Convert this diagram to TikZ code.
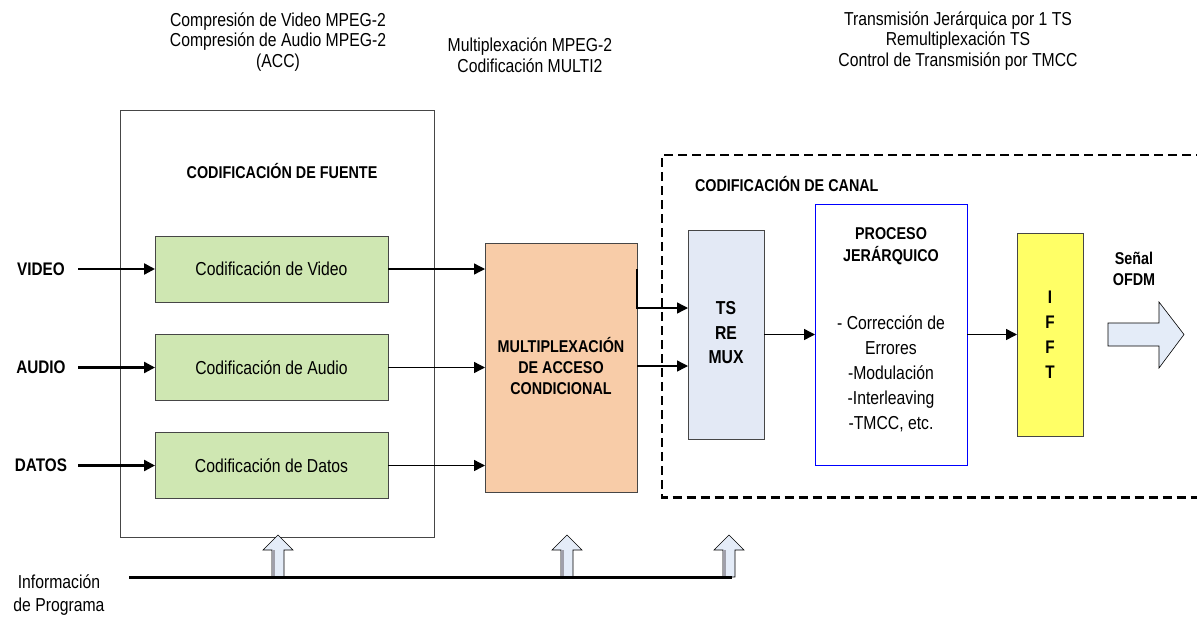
\documentclass[tikz,border=0pt]{standalone}
\usepackage{fontspec}
\setmainfont{Liberation Sans}[FakeStretch=0.84]
\usetikzlibrary{arrows.meta}

\definecolor{boxgray}{RGB}{70,70,70}
\definecolor{codgreen}{RGB}{207,231,178}
\definecolor{muxpeach}{RGB}{248,204,168}
\definecolor{remuxblue}{RGB}{227,233,245}
\definecolor{ifftyellow}{RGB}{255,255,102}
\definecolor{arrowblue}{RGB}{228,236,248}
\definecolor{shadegray}{RGB}{160,160,170}

\tikzset{
  every node/.style={inner sep=0pt, outer sep=0pt},
  blockbox/.style={draw=boxgray, line width=0.8pt, rectangle},
  plain/.style={font=\fontsize{18.75}{21}\selectfont, align=center},
  toptext/.style={font=\fontsize{18.75}{20.5}\selectfont, align=center},
  heading/.style={font=\bfseries\fontsize{17.1}{21}\selectfont, align=center},
  inlabel/.style={font=\bfseries\fontsize{18.2}{20}\selectfont},
  tip/.style={-{Triangle[length=11pt,width=11pt]}},
  inarrow/.style={tip, line width=2.4pt},
  flowarrow/.style={tip, line width=1.4pt},
  fatarrow/.style={draw=black, line width=0.6pt, fill=arrowblue},
  pics/uparrow/.style={code={
    \path[fatarrow] (-6,0) -- (-6,-27) -- (-15,-27) -- (0,-42)
      -- (15,-27) -- (6,-27) -- (6,0) -- cycle;
    \fill[shadegray] (-5.7,-1) rectangle (-3.5,-26.7);
  }}
}

\begin{document}
\begin{tikzpicture}[x=1pt,y=-1pt]
\useasboundingbox (0,0) rectangle (1197,616);

% captions above the stages
\node[toptext] (capsrc) at (278,42) {Compresión de Video MPEG-2\\Compresión de Audio MPEG-2\\(ACC)};
\node[toptext] (capmux) at (530,55) {Multiplexación MPEG-2\\Codificación MULTI2};
\node[toptext] (capch) at (958,41) {Transmisión Jerárquica por 1 TS\\Remultiplexación TS\\Control de Transmisión por TMCC};

% source coding block
\node[blockbox, minimum width=314pt, minimum height=427pt] (fuente) at (277,323.5) {};
\node[heading] (fuentetitle) at (282,171) {CODIFICACIÓN DE FUENTE};

\node[blockbox, fill=codgreen, minimum width=233pt, minimum height=66pt, plain] (cvideo) at (271.5,269) {Codificación de Video};
\node[blockbox, fill=codgreen, minimum width=233pt, minimum height=66pt, plain] (caudio) at (271.5,367.5) {Codificación de Audio};
\node[blockbox, fill=codgreen, minimum width=233pt, minimum height=66pt, plain] (cdatos) at (271.5,465.5) {Codificación de Datos};

% inputs
\node[inlabel] (lvideo) at (41,269) {VIDEO};
\node[inlabel] (laudio) at (41,367.5) {AUDIO};
\node[inlabel] (ldatos) at (41,465.5) {DATOS};
\coordinate (svideo) at (78,269);
\coordinate (saudio) at (78,367.5);
\coordinate (sdatos) at (78,465.5);
\draw[inarrow] (svideo) -- (cvideo.west);
\draw[inarrow] (saudio) -- (caudio.west);
\draw[inarrow] (sdatos) -- (cdatos.west);

% conditional access multiplexer
\node[blockbox, fill=muxpeach, minimum width=152pt, minimum height=249pt] (mux) at (561,367.5) {};
\node[heading] (muxtext) at (561,366) {MULTIPLEXACIÓN\\DE ACCESO\\CONDICIONAL};

\draw[flowarrow] (cvideo.east) -- (mux.west |- cvideo.east);
\draw[flowarrow] (caudio.east) -- (mux.west |- caudio.east);
\draw[flowarrow] (cdatos.east) -- (mux.west |- cdatos.east);

% channel coding region
\draw[line width=2.2pt, dash pattern=on 9pt off 5pt] (1205,155) -- (662,155) -- (662,497.5) -- (1205,497.5);
\node[heading, anchor=west] (canaltitle) at (695,184) {CODIFICACIÓN DE CANAL};

\node[blockbox, fill=remuxblue, minimum width=76pt, minimum height=209pt] (remux) at (726,334.5) {};
\node[font=\bfseries\fontsize{18.75}{24.5}\selectfont, align=center] (remuxtext) at (726,333) {TS\\RE\\MUX};

\coordinate (muxout) at (637,269);
\draw[flowarrow] (muxout) |- (remux.west |- 0,308);
\draw[flowarrow] (mux.east |- 0,366) -- (remux.west |- 0,366);

\node[draw=blue, line width=0.8pt, minimum width=152pt, minimum height=261pt] (proc) at (891,334.5) {};
\node[heading, font=\bfseries\fontsize{17.1}{22}\selectfont] (proctitle) at (891,246) {PROCESO\\JERÁRQUICO};
\node[plain, font=\fontsize{18.75}{25}\selectfont] (proctext) at (891,374) {- Corrección de\\Errores\\-Modulación\\-Interleaving\\-TMCC, etc.};

\node[blockbox, fill=ifftyellow, minimum width=66pt, minimum height=203pt] (ifft) at (1050,334.5) {};
\node[font=\bfseries\fontsize{18.2}{25}\selectfont, align=center] (iffttext) at (1050,334.5) {I\\F\\F\\T};

\draw[flowarrow] (remux.east) -- (proc.west);
\draw[flowarrow] (proc.east) -- (ifft.west);

% OFDM output
\node[heading] (ofdm) at (1134,269) {Señal\\OFDM};
\path[fatarrow] (1108,323) -- (1159,323) -- (1159,302) -- (1184,334.5)
  -- (1159,368) -- (1159,346) -- (1108,346) -- cycle;

% program information bus
\node[plain, font=\fontsize{18.75}{23}\selectfont] (info) at (59,595) {Información\\de Programa};
\pic at (278,577) {uparrow};
\pic at (567,577) {uparrow};
\pic at (729,577) {uparrow};
\coordinate (busstart) at (129,577);
\coordinate (busend) at (732,577);
\draw[line width=3pt] (busstart) -- (busend);
\end{tikzpicture}
\end{document}
